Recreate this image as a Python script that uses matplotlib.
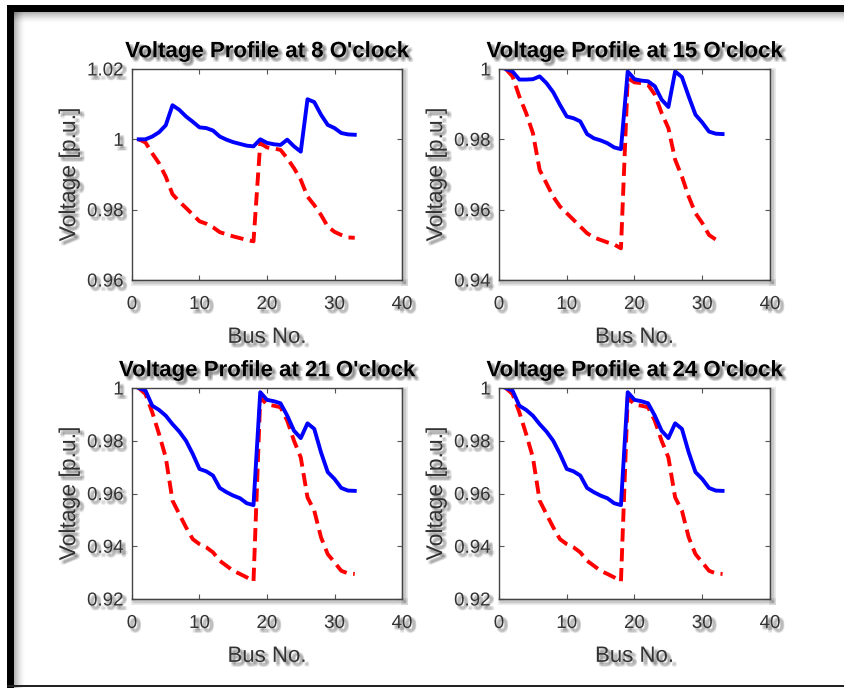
#!/usr/bin/env python3
"""
Voltage profiles of the 33-bus feeder at four hours of the day
"""

import numpy as np
import matplotlib
matplotlib.use("Agg")
import matplotlib.pyplot as plt
import matplotlib.patheffects as pe
from matplotlib.patches import Rectangle

# Bus numbers
bus = np.arange(1, 34)

# 8 o'clock
v08_dg = [1.0, 1.0, 1.0008, 1.002, 1.004, 1.0097, 1.0084, 1.0065, 1.005, 1.0034,
          1.0032, 1.0025, 1.0008, 0.9999, 0.9992, 0.9987, 0.9982, 0.998, 1.0, 0.999,
          0.9986, 0.9984, 0.9999, 0.998, 0.9965, 1.0114, 1.0106, 1.007, 1.0041, 1.0032,
          1.0018, 1.0014, 1.0013]
v08_base = [1.0, 0.9991, 0.996, 0.9932, 0.9894, 0.9844, 0.9823, 0.9805, 0.9786, 0.9767,
            0.976, 0.975, 0.9736, 0.973, 0.9724, 0.9719, 0.9714, 0.971, 0.9989, 0.9977,
            0.9974, 0.997, 0.9946, 0.9918, 0.9885, 0.9837, 0.9813, 0.9785, 0.9752, 0.9737,
            0.9728, 0.9721, 0.972]

# 15 o'clock
v15_dg = [1.0, 0.9993, 0.997, 0.997, 0.9971, 0.9979, 0.996, 0.9934, 0.9898, 0.9865,
          0.986, 0.9851, 0.9815, 0.9803, 0.9797, 0.9789, 0.9777, 0.9772, 0.9993, 0.9971,
          0.9967, 0.9965, 0.9951, 0.9913, 0.9892, 0.9993, 0.9977, 0.9922, 0.987, 0.9848,
          0.9822, 0.9816, 0.9815]
v15_base = [1.0, 0.9979, 0.9922, 0.9875, 0.9818, 0.9713, 0.9675, 0.9637, 0.9609, 0.959,
            0.9571, 0.9552, 0.9533, 0.9521, 0.9514, 0.9507, 0.9501, 0.949, 0.9974, 0.9962,
            0.996, 0.9955, 0.9927, 0.9875, 0.9832, 0.9742, 0.9694, 0.9637, 0.959, 0.9562,
            0.9528, 0.9515, np.nan]

# 21 o'clock
v21_dg = [1.0, 0.999, 0.9933, 0.9917, 0.9895, 0.9863, 0.9835, 0.98, 0.975, 0.9693,
          0.9684, 0.9668, 0.9621, 0.9605, 0.9592, 0.9582, 0.9563, 0.9556, 0.9984, 0.9955,
          0.995, 0.9942, 0.9895, 0.9838, 0.981, 0.9866, 0.9845, 0.9756, 0.9681, 0.9655,
          0.9621, 0.9611, 0.961]
v21_base = [1.0, 0.9977, 0.9908, 0.9826, 0.9737, 0.9573, 0.9522, 0.9472, 0.9427, 0.9408,
            0.9396, 0.9377, 0.9345, 0.9326, 0.9307, 0.9295, 0.9282, 0.9267, 0.9965, 0.9937,
            0.9933, 0.9927, 0.9876, 0.98, 0.9737, 0.9585, 0.9535, 0.9434, 0.937, 0.9339,
            0.9307, 0.9297, 0.9295]

# 24 o'clock
v24_dg = [1.0, 0.999, 0.9933, 0.9917, 0.9895, 0.9863, 0.9835, 0.98, 0.975, 0.9693,
          0.9684, 0.9668, 0.9621, 0.9605, 0.9592, 0.9582, 0.9563, 0.9556, 0.9984, 0.9955,
          0.995, 0.9942, 0.9895, 0.9838, 0.981, 0.9866, 0.9845, 0.9756, 0.9681, 0.9655,
          0.9621, 0.9611, 0.961]
v24_base = [1.0, 0.9977, 0.9908, 0.9826, 0.9737, 0.9573, 0.9522, 0.9472, 0.9427, 0.9408,
            0.9396, 0.9377, 0.9345, 0.9326, 0.9307, 0.9295, 0.9282, 0.9267, 0.9965, 0.9937,
            0.9933, 0.9927, 0.9876, 0.98, 0.9737, 0.9585, 0.9535, 0.9434, 0.937, 0.9339,
            0.9307, 0.9297, 0.9295]

hours = [8, 15, 21, 24]
dg_profiles = [v08_dg, v15_dg, v21_dg, v24_dg]
base_profiles = [v08_base, v15_base, v21_base, v24_base]
y_limits = [(0.96, 1.02), (0.94, 1.0), (0.92, 1.0), (0.92, 1.0)]
y_ticks = [[0.96, 0.98, 1.0, 1.02], [0.94, 0.96, 0.98, 1.0],
           [0.92, 0.94, 0.96, 0.98, 1.0], [0.92, 0.94, 0.96, 0.98, 1.0]]
x_ticks = [0, 10, 20, 30, 40]

W, H = 845, 688
plt.rcParams['font.family'] = ['Liberation Sans', 'DejaVu Sans']


def soft_shadow(dx=2.4, dy=-2.4, alpha=0.09, shade='0.2'):
    # a few jittered copies give a blurred drop shadow
    fx = []
    for ox, oy in [(0, 0), (-0.9, 0), (0.9, 0), (0, -0.9), (0, 0.9),
                   (0.9, 0.9), (-0.9, -0.9), (0.9, -0.9), (-0.9, 0.9)]:
        fx.append(pe.SimplePatchShadow(offset=(dx + ox, dy + oy),
                                       shadow_rgbFace=shade, alpha=alpha))
    fx.append(pe.Normal())
    return fx


def spine_shadow():
    return [pe.SimpleLineShadow(offset=(1.5, -1.5), shadow_color='0.3', alpha=0.12, linewidth=5),
            pe.SimpleLineShadow(offset=(1.5, -1.5), shadow_color='0.3', alpha=0.2, linewidth=2.5),
            pe.Normal()]


def fig_rect(x, y, w, h, **kw):
    # pixel box (from top-left) to figure fraction
    return Rectangle((x / W, 1 - (y + h) / H), w / W, h / H,
                     transform=fig.transFigure, **kw)


fig = plt.figure(figsize=(W / 100, H / 100), dpi=100)

# axes boxes in pixels: left, top, width, height
boxes = [(132, 69, 270, 211), (499, 69, 271, 211),
         (132, 388, 270, 211), (499, 388, 271, 211)]

text_col = '#333333'
for box, hr, v_dg, v_base, ylim, yt in zip(boxes, hours, dg_profiles, base_profiles,
                                           y_limits, y_ticks):
    x0, y0, w, h = box
    ax = fig.add_axes([x0 / W, 1 - (y0 + h) / H, w / W, h / H])
    ax.plot(bus, v_base, color='#ff0000', linewidth=2.8, linestyle=(0, (3.4, 1.7)))
    ax.plot(bus, v_dg, color='#0000ff', linewidth=2.8)

    ax.set_xlim(0, 40)
    ax.set_ylim(*ylim)
    ax.set_xticks(x_ticks)
    ax.set_yticks(yt)
    ax.set_yticklabels([f'{v:g}' for v in yt])
    ax.tick_params(direction='in', length=3.5, width=0.8, top=True, right=True,
                   colors='#555555', labelcolor=text_col, labelsize=13.5)
    ax.tick_params(axis='x', pad=11.5)
    ax.tick_params(axis='y', pad=6)
    for lab in ax.get_xticklabels() + ax.get_yticklabels():
        lab.set_path_effects(soft_shadow())

    for name, sp in ax.spines.items():
        sp.set_color('#444444')
        sp.set_linewidth(1.0)
        if name in ('right', 'bottom'):
            sp.set_path_effects(spine_shadow())

    t = ax.set_title(f"Voltage Profile at {hr} O'clock", fontsize=16,
                     fontweight='bold', color='black', pad=8.5)
    t.set_path_effects(soft_shadow())
    xl = ax.set_xlabel('Bus No.', fontsize=16, color=text_col, labelpad=10)
    xl.set_path_effects(soft_shadow())
    yl = ax.set_ylabel('Voltage [p.u.]', fontsize=16.5, color=text_col, labelpad=5)
    yl.set_path_effects(soft_shadow())

# outer frame: thick left and top bars, thin bottom line, soft inner shadow
for i in range(11):
    a = 0.3 * (1 - i / 11) ** 1.6
    fig.add_artist(fig_rect(14 + i, 12, 1, H - 12, facecolor='black', alpha=a,
                            edgecolor='none'))
    fig.add_artist(fig_rect(14, 12 + i, W - 14, 1, facecolor='black', alpha=a,
                            edgecolor='none'))
fig.add_artist(fig_rect(7, 5, 7, H - 5, facecolor='black', edgecolor='none'))
fig.add_artist(fig_rect(7, 5, W - 7, 7, facecolor='black', edgecolor='none'))
fig.add_artist(fig_rect(7, 685, W - 7, 2, facecolor='#222222', edgecolor='none'))

fig.savefig('out.png', dpi=100)
